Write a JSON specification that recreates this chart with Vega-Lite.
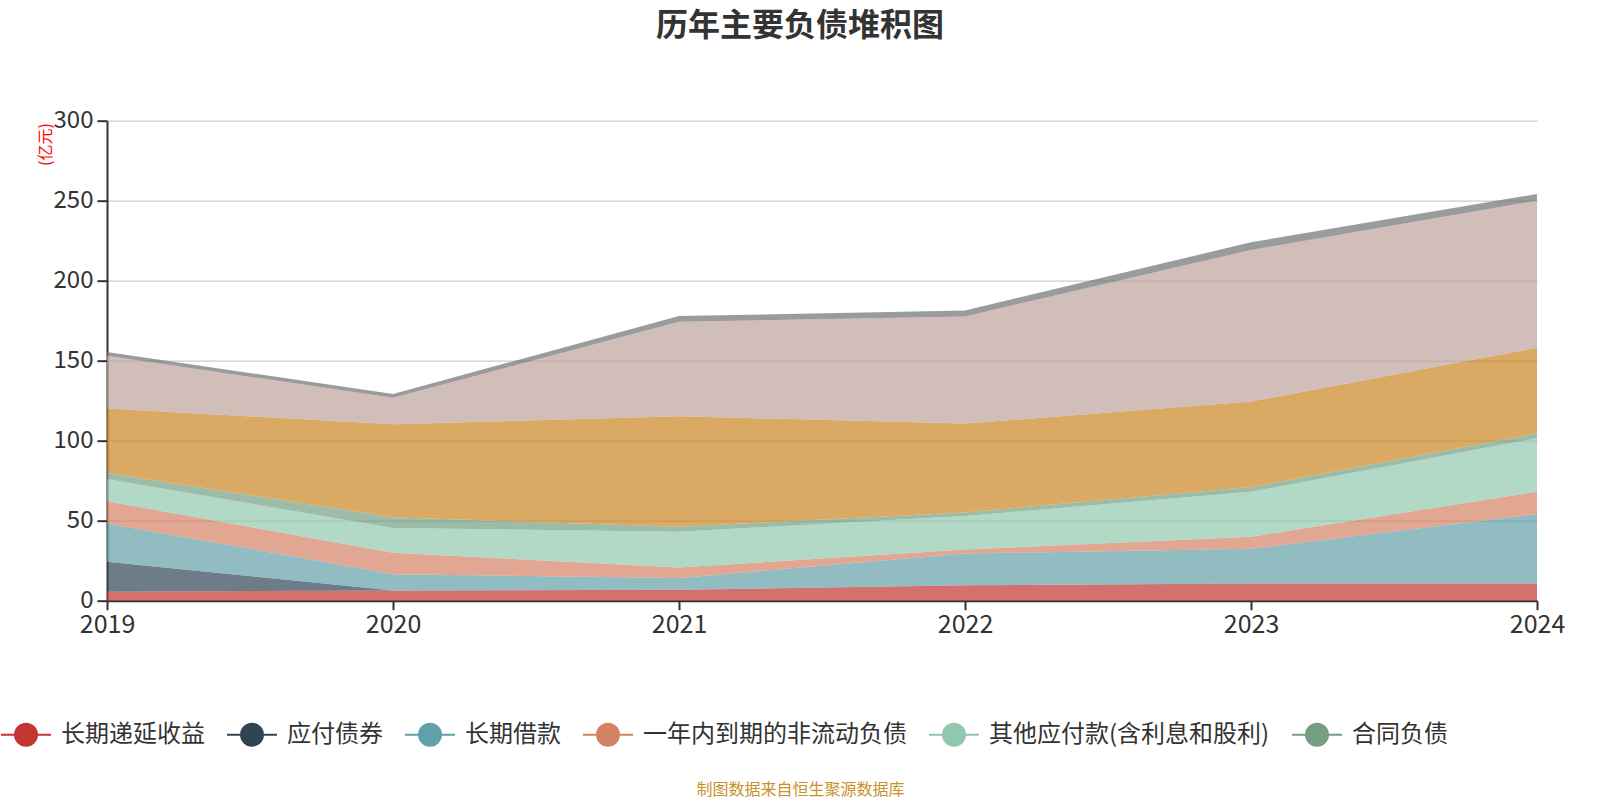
{
  "$schema": "https://vega.github.io/schema/vega-lite/v6.json",
  "autosize": {"type": "none"},
  "width": 1430,
  "height": 480,
  "padding": {"left": 107, "top": 120.7, "right": 63, "bottom": 199.3},
  "background": "white",
  "config": {
    "font": "Noto Sans CJK SC",
    "view": {"stroke": null}
  },
  "title": {
    "text": "历年主要负债堆积图",
    "fontSize": 32,
    "fontWeight": "bold",
    "color": "#333333",
    "frame": "group",
    "anchor": "middle",
    "offset": 66,
    "dx": -22
  },
  "datasets": {
    "items": [
      {"item": "长期递延收益", "rank": 1},
      {"item": "应付债券", "rank": 2},
      {"item": "长期借款", "rank": 3},
      {"item": "一年内到期的非流动负债", "rank": 4},
      {"item": "其他应付款(含利息和股利)", "rank": 5},
      {"item": "合同负债", "rank": 6},
      {"item": "应付账款", "rank": 7},
      {"item": "短期借款", "rank": 8},
      {"item": "应付票据", "rank": 9}
    ]
  },
  "data": {
    "values": [
      {"year": "2019", "item": "长期递延收益", "value": 5.6},
      {"year": "2020", "item": "长期递延收益", "value": 6.4},
      {"year": "2021", "item": "长期递延收益", "value": 6.9},
      {"year": "2022", "item": "长期递延收益", "value": 9.6},
      {"year": "2023", "item": "长期递延收益", "value": 10.8},
      {"year": "2024", "item": "长期递延收益", "value": 10.8},
      {"year": "2019", "item": "应付债券", "value": 18.8},
      {"year": "2020", "item": "应付债券", "value": 0},
      {"year": "2021", "item": "应付债券", "value": 0},
      {"year": "2022", "item": "应付债券", "value": 0},
      {"year": "2023", "item": "应付债券", "value": 0},
      {"year": "2024", "item": "应付债券", "value": 0},
      {"year": "2019", "item": "长期借款", "value": 23.9},
      {"year": "2020", "item": "长期借款", "value": 10.2},
      {"year": "2021", "item": "长期借款", "value": 7.3},
      {"year": "2022", "item": "长期借款", "value": 19.9},
      {"year": "2023", "item": "长期借款", "value": 21.7},
      {"year": "2024", "item": "长期借款", "value": 43.4},
      {"year": "2019", "item": "一年内到期的非流动负债", "value": 13.8},
      {"year": "2020", "item": "一年内到期的非流动负债", "value": 13.4},
      {"year": "2021", "item": "一年内到期的非流动负债", "value": 6.5},
      {"year": "2022", "item": "一年内到期的非流动负债", "value": 2.5},
      {"year": "2023", "item": "一年内到期的非流动负债", "value": 7.5},
      {"year": "2024", "item": "一年内到期的非流动负债", "value": 13.9},
      {"year": "2019", "item": "其他应付款(含利息和股利)", "value": 13.9},
      {"year": "2020", "item": "其他应付款(含利息和股利)", "value": 15.5},
      {"year": "2021", "item": "其他应付款(含利息和股利)", "value": 22.4},
      {"year": "2022", "item": "其他应付款(含利息和股利)", "value": 20.9},
      {"year": "2023", "item": "其他应付款(含利息和股利)", "value": 28.1},
      {"year": "2024", "item": "其他应付款(含利息和股利)", "value": 33.4},
      {"year": "2019", "item": "合同负债", "value": 3.8},
      {"year": "2020", "item": "合同负债", "value": 6.6},
      {"year": "2021", "item": "合同负债", "value": 3.1},
      {"year": "2022", "item": "合同负债", "value": 2.3},
      {"year": "2023", "item": "合同负债", "value": 3.0},
      {"year": "2024", "item": "合同负债", "value": 3.1},
      {"year": "2019", "item": "应付账款", "value": 40.4},
      {"year": "2020", "item": "应付账款", "value": 58.2},
      {"year": "2021", "item": "应付账款", "value": 69.1},
      {"year": "2022", "item": "应付账款", "value": 55.5},
      {"year": "2023", "item": "应付账款", "value": 53.4},
      {"year": "2024", "item": "应付账款", "value": 53.5},
      {"year": "2019", "item": "短期借款", "value": 32.9},
      {"year": "2020", "item": "短期借款", "value": 16.5},
      {"year": "2021", "item": "短期借款", "value": 59.0},
      {"year": "2022", "item": "短期借款", "value": 67.0},
      {"year": "2023", "item": "短期借款", "value": 94.7},
      {"year": "2024", "item": "短期借款", "value": 91.9},
      {"year": "2019", "item": "应付票据", "value": 2.3},
      {"year": "2020", "item": "应付票据", "value": 2.4},
      {"year": "2021", "item": "应付票据", "value": 3.6},
      {"year": "2022", "item": "应付票据", "value": 3.7},
      {"year": "2023", "item": "应付票据", "value": 4.8},
      {"year": "2024", "item": "应付票据", "value": 4.2}
    ]
  },
  "transform": [
    {
      "lookup": "item",
      "from": {"data": {"name": "items"}, "key": "item", "fields": ["rank"]}
    }
  ],
  "mark": {"type": "area", "opacity": 0.7},
  "encoding": {
    "x": {
      "field": "year",
      "type": "ordinal",
      "scale": {"type": "point", "padding": 0},
      "axis": {
        "labelAngle": 0,
        "labelFontSize": 25,
        "labelColor": "#333333",
        "labelPadding": 3,
        "domainColor": "#333333",
        "domainWidth": 2,
        "tickColor": "#333333",
        "tickSize": 9,
        "tickWidth": 2,
        "grid": false,
        "title": "制图数据来自恒生聚源数据库",
        "titleColor": "#c8922a",
        "titleFontSize": 16,
        "titleFontWeight": "normal",
        "titleX": 693,
        "titleY": 181
      }
    },
    "y": {
      "field": "value",
      "type": "quantitative",
      "stack": "zero",
      "scale": {"domain": [0, 300]},
      "axis": {
        "values": [0, 50, 100, 150, 200, 250, 300],
        "labelFontSize": 24,
        "labelColor": "#333333",
        "labelPadding": 4,
        "domainColor": "#333333",
        "domainWidth": 2,
        "tickColor": "#333333",
        "tickSize": 10,
        "tickWidth": 2,
        "gridColor": "#cccccc",
        "gridWidth": 1.3,
        "title": "(亿元)",
        "titleColor": "#ff0000",
        "titleFontSize": 16,
        "titleFontWeight": "normal",
        "titleAnchor": "end",
        "titleX": -62,
        "titleY": 2,
        "titleAlign": "right",
        "titleBaseline": "middle"
      }
    },
    "order": {"field": "rank", "type": "quantitative", "sort": "ascending"},
    "color": {
      "field": "item",
      "type": "nominal",
      "sort": ["长期递延收益", "应付债券", "长期借款", "一年内到期的非流动负债", "其他应付款(含利息和股利)", "合同负债", "应付账款", "短期借款", "应付票据"],
      "scale": {
        "domain": ["长期递延收益", "应付债券", "长期借款", "一年内到期的非流动负债", "其他应付款(含利息和股利)", "合同负债", "应付账款", "短期借款", "应付票据"],
        "range": ["#c23531", "#2f4554", "#61a0a8", "#d48265", "#91c7ae", "#749f83", "#ca8622", "#bda29a", "#6e7074"]
      },
      "legend": {
        "values": ["长期递延收益", "应付债券", "长期借款", "一年内到期的非流动负债", "其他应付款(含利息和股利)", "合同负债"],
        "orient": "none",
        "direction": "horizontal",
        "columns": 6,
        "legendX": -107,
        "legendY": 588,
        "padding": 0,
        "title": null,
        "symbolType": "M-1,0L-0.44,0M0.44,0L1,0M0.44,0A0.44,0.44,0,1,1,-0.44,0A0.44,0.44,0,1,1,0.44,0Z",
        "symbolSize": 2500,
        "symbolStrokeWidth": 2,
        "symbolOpacity": 1,
        "labelFontSize": 24,
        "labelColor": "#333333",
        "labelOffset": 9,
        "columnPadding": 18,
        "labelLimit": 400,
        "encode": {
          "symbols": {
            "update": {
              "stroke": {"scale": "color", "field": "value"},
              "fill": {"scale": "color", "field": "value"},
              "opacity": {"value": 1}
            }
          }
        }
      }
    }
  }
}
